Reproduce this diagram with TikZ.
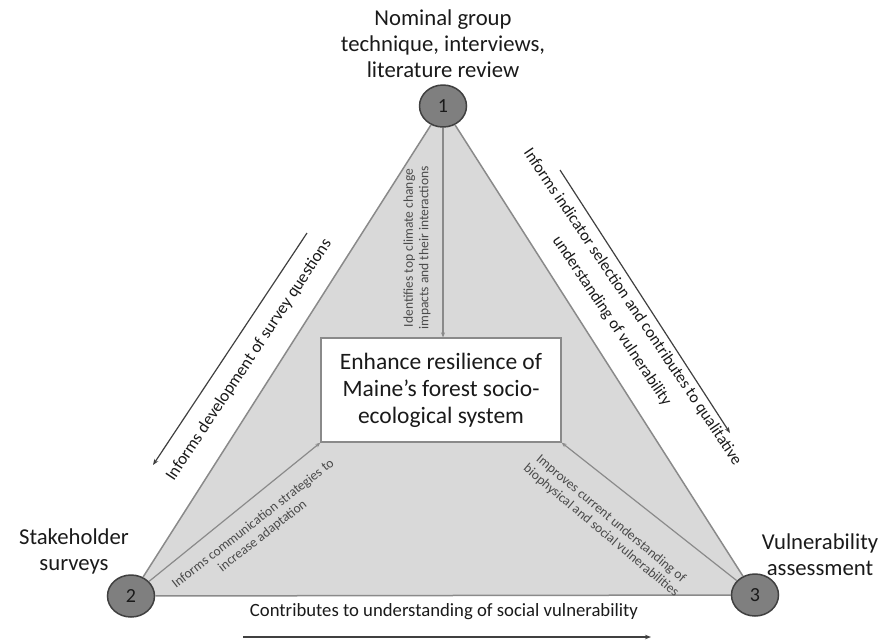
\documentclass[tikz,border=0pt]{standalone}
\usepackage{fontspec}
\setmainfont{Carlito}
\usetikzlibrary{positioning,arrows.meta,shapes.geometric,backgrounds}

\definecolor{triFill}{HTML}{D9D9D9}
\definecolor{triEdge}{HTML}{8A8A8A}
\definecolor{circFill}{HTML}{7F7F7F}
\definecolor{circEdge}{HTML}{404040}
\definecolor{txtDark}{HTML}{1A1A1A}
\definecolor{txtGray}{HTML}{4A4A4A}

\begin{document}
\begin{tikzpicture}[x=1pt, y=-1pt,
  every node/.style={inner sep=0pt, text=txtDark},
  stage/.style={ellipse, draw=circEdge, fill=circFill, line width=1.5pt,
    minimum width=47pt, minimum height=42pt, font=\fontsize{20}{20}\selectfont},
  goalbox/.style={draw=triEdge, fill=white, line width=1.3pt, align=center,
    minimum width=240pt, minimum height=104pt, font=\fontsize{23.5}{27}\selectfont},
  toplabel/.style={align=center, font=\fontsize{22.7}{26}\selectfont},
  sidenote/.style={align=center, font=\fontsize{17}{25}\selectfont},
  innernote/.style={align=center, text=txtGray, font=\fontsize{13.5}{15.5}\selectfont},
  inarrow/.style={draw=triEdge, line width=1.2pt, -{Stealth[length=5pt,width=4pt]}},
  outarrow/.style={draw=circEdge, line width=1.2pt, -{Stealth[length=6pt,width=4.5pt]}}]
  \useasboundingbox (0,0) rectangle (882,641);

  % corners of the triangle
  \node[stage] (n1) at (443,106) {1};
  \node[stage] (n2) at (131,596) {2};
  \node[stage] (n3) at (755,595) {3};

  \begin{scope}[on background layer]
    \fill[triFill] (n1.center) -- (n2.center) -- (n3.center) -- cycle;
  \end{scope}
  \draw[triEdge, line width=1.5pt] (n1) -- (n2);
  \draw[triEdge, line width=1.5pt] (n2) -- (n3);
  \draw[triEdge, line width=1.5pt] (n3) -- (n1);

  \node[goalbox] (goal) at (441,390) {Enhance resilience of\\Maine’s forest socio-\\ecological system};

  % labels of the corners
  \node[toplabel] (lab1) at (443,44) {Nominal group\\technique, interviews,\\literature review};
  \node[toplabel] (lab2) at (74,551) {Stakeholder\\surveys};
  \node[toplabel] (lab3) at (820,555) {Vulnerability\\assessment};

  % arrows into the goal
  \draw[inarrow] (n1.south) -- (n1.south |- goal.north);
  \draw[inarrow] (n2) -- (goal.south west);
  \draw[inarrow] (n3) -- (goal.south east);
  \node[innernote, rotate=90] (t1) at (417,248) {Identifies top climate change\\impacts and their interactions};
  \node[innernote, rotate=38] (t2) at (258,530) {Informs communication strategies to\\increase adaptation};
  \node[innernote, rotate=-40] (t3) at (606,525) {Improves current understanding of\\biophysical and social vulnerabilities};

  % arrows along the sides
  \coordinate (l1) at (307,233);
  \coordinate (l2) at (153,465);
  \coordinate (r1) at (560,170);
  \coordinate (r2) at (730,433);
  \coordinate (b1) at (243,637);
  \coordinate (b2) at (651,637);
  \draw[outarrow] (l1) -- (l2);
  \draw[outarrow] (r1) -- (r2);
  \draw[outarrow] (b1) -- (b2);
  \node[sidenote, rotate=56.5] (s1) at (249,360) {Informs development of survey questions};
  \node[sidenote, rotate=-56, font=\fontsize{16.4}{25}\selectfont] (s2) at (622,314) {Informs indicator selection and contributes to qualitative\\understanding of vulnerability};
  \node[sidenote, font=\fontsize{18.7}{20}\selectfont] (s3) at (444,612) {Contributes to understanding of social vulnerability};
\end{tikzpicture}
\end{document}
